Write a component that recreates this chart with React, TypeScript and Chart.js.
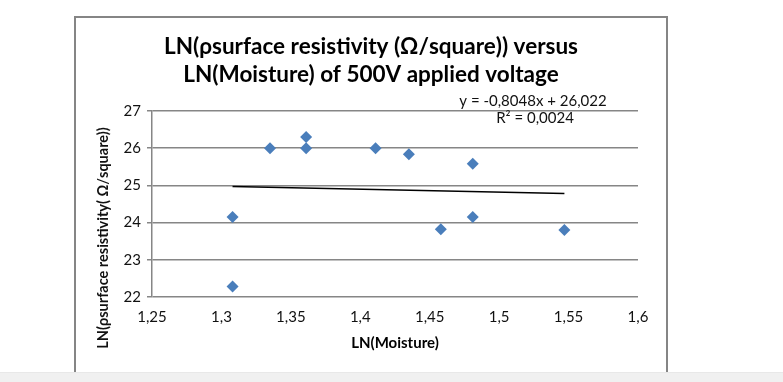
import React, { useEffect, useRef } from 'react';
import { Chart, registerables } from 'chart.js';

Chart.register(...registerables);

const titleLines = ['LN(ρsurface resistivity (Ω/square)) versus', 'LN(Moisture) of 500V applied voltage'];
const xAxisTitle = 'LN(Moisture)';
const yAxisTitle = 'LN(ρsurface resistivity( Ω/square))';
const equationLines = ['y = -0,8048x + 26,022', 'R² = 0,0024'];

const moistureX = [1.308, 1.308, 1.335, 1.361, 1.361, 1.411, 1.435, 1.481, 1.458, 1.481, 1.547];
const resistivityY = [22.28, 24.15, 26.0, 26.3, 26.0, 26.0, 25.84, 25.58, 23.82, 24.15, 23.8];

const trendX = [1.308, 1.547];
const trendY = [24.97, 24.78];

const xTickValues = [1.25, 1.3, 1.35, 1.4, 1.45, 1.5, 1.55, 1.6];
const xTickLabels = ['1,25', '1,3', '1,35', '1,4', '1,45', '1,5', '1,55', '1,6'];
const yTickValues = [22, 23, 24, 25, 26, 27];
const yTickLabels = ['22', '23', '24', '25', '26', '27'];

const FONT = 'Lato, "Open Sans", sans-serif';

const textPlugin = {
  id: 'extraText',
  afterDraw(chart: any) {
    const { ctx, chartArea } = chart;
    ctx.save();
    ctx.fillStyle = '#000';
    ctx.textAlign = 'center';
    ctx.textBaseline = 'middle';
    // chart title
    ctx.font = `bold 22.5px ${FONT}`;
    ctx.fillText(titleLines[0], 371, 47);
    ctx.fillText(titleLines[1], 371, 75);
    // equation
    ctx.font = `15px ${FONT}`;
    ctx.fillStyle = '#111';
    ctx.fillText(equationLines[0], chartArea.right - 105, chartArea.top - 10);
    ctx.fillText(equationLines[1], chartArea.right - 103, chartArea.top + 7);
    // y axis title
    ctx.font = `bold 14.5px ${FONT}`;
    ctx.translate(103, 238);
    ctx.rotate(-Math.PI / 2);
    ctx.fillText(yAxisTitle, 0, 0);
    ctx.restore();
  },
};

export default function App() {
  const canvasRef = useRef<HTMLCanvasElement | null>(null);

  useEffect(() => {
    const canvas = canvasRef.current;
    if (!canvas) return;
    const chart = new Chart(canvas, {
      type: 'scatter',
      data: {
        datasets: [
          {
            label: 'Trend',
            type: 'line',
            data: trendX.map((x, i) => ({ x, y: trendY[i] })),
            borderColor: '#000',
            borderWidth: 1.5,
            pointRadius: 0,
            showLine: true,
            fill: false,
            order: 2,
          },
          {
            label: 'Data',
            data: moistureX.map((x, i) => ({ x, y: resistivityY[i] })),
            pointStyle: 'rectRot',
            pointRadius: 6,
            pointBackgroundColor: '#4a7ebb',
            pointBorderColor: '#4a7ebb',
            pointBorderWidth: 0,
            order: 1,
          },
        ],
      },
      options: {
        responsive: false,
        animation: false,
        events: [],
        layout: { padding: { left: 91, right: 145, top: 111, bottom: 0 } },
        plugins: {
          legend: { display: false },
          title: { display: false },
          tooltip: { enabled: false },
        },
        scales: {
          x: {
            type: 'linear',
            min: 1.25,
            max: 1.6,
            afterBuildTicks(scale: any) {
              scale.ticks = xTickValues.map((v) => ({ value: v }));
            },
            afterFit(scale: any) {
              scale.height = 85;
            },
            grid: { display: false },
            border: { display: false },
            ticks: {
              padding: 3,
              color: '#111',
              font: { family: FONT, size: 15 },
              maxRotation: 0,
              callback: (_v: any, i: number) => xTickLabels[i],
            },
            title: {
              display: true,
              text: xAxisTitle,
              color: '#000',
              font: { family: FONT, size: 15, weight: 'bold' },
              padding: { top: 0, bottom: 30 },
            },
          },
          y: {
            type: 'linear',
            min: 22,
            max: 27,
            afterBuildTicks(scale: any) {
              scale.ticks = yTickValues.map((v) => ({ value: v }));
            },
            afterFit(scale: any) {
              scale.width = 61;
            },
            grid: { color: '#868686', lineWidth: 1.5, tickLength: 5, drawTicks: true },
            border: { display: true, color: '#868686', width: 1.5 },
            ticks: {
              padding: 6,
              color: '#111',
              font: { family: FONT, size: 15 },
              callback: (_v: any, i: number) => yTickLabels[i],
            },
            title: { display: false },
          },
        },
      },
      plugins: [textPlugin],
    });
    return () => chart.destroy();
  }, []);

  return (
    <div style={{ position: 'absolute', left: 0, top: 0, width: 783, height: 382, background: '#fff', overflow: 'hidden' }}>
      <div
        style={{
          position: 'absolute',
          left: 74,
          top: 16,
          width: 590,
          height: 370,
          borderTop: '2px solid #858585',
          borderLeft: '2px solid #858585',
          borderRight: '2px solid #858585',
          boxSizing: 'content-box',
        }}
      />
      <canvas ref={canvasRef} width={783} height={382} style={{ position: 'absolute', left: 0, top: 0 }} />
      <div
        style={{
          position: 'absolute',
          left: 0,
          top: 372,
          width: 783,
          height: 10,
          background: '#f0f0f0',
          borderTop: '1px solid #e8e8e8',
        }}
      />
    </div>
  );
}
